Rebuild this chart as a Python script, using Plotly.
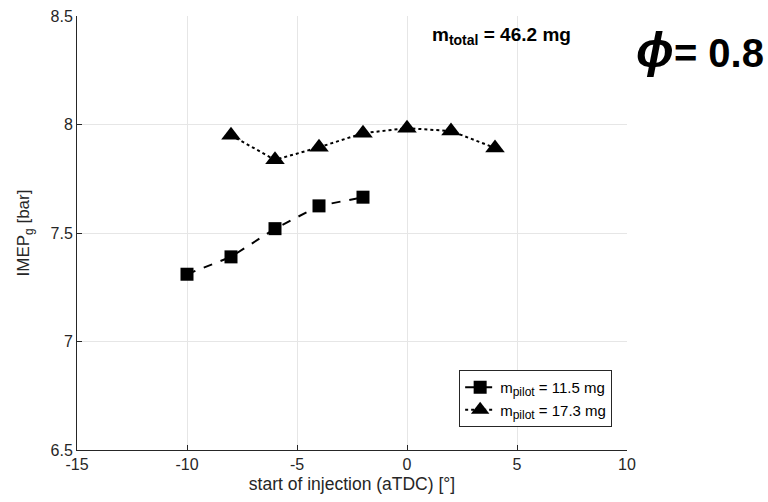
import plotly.graph_objects as go

soi_pilot115 = [-10, -8, -6, -4, -2]
imep_pilot115 = [7.31, 7.39, 7.52, 7.625, 7.665]
soi_pilot173 = [-8, -6, -4, -2, 0, 2, 4]
imep_pilot173 = [7.95, 7.837, 7.895, 7.96, 7.983, 7.97, 7.892]

x_ticks = [-15, -10, -5, 0, 5, 10]
y_ticks = [6.5, 7, 7.5, 8, 8.5]
y_ticklabels = ["6.5", "7", "7.5", "8", "8.5"]

font = "Liberation Sans, Arial, sans-serif"
axcol = "#262626"

fig = go.Figure()
fig.add_trace(go.Scatter(
    x=soi_pilot115, y=imep_pilot115, mode="lines+markers",
    name="m<sub><span style='font-size:12px'>pilot</span></sub> = 11.5 mg",
    line=dict(color="black", width=2, dash="dash"),
    marker=dict(symbol="square", size=13, color="black"),
))
fig.add_trace(go.Scatter(
    x=soi_pilot173, y=imep_pilot173, mode="lines+markers",
    name="m<sub><span style='font-size:12px'>pilot</span></sub> = 17.3 mg",
    line=dict(color="black", width=2, dash="dot"),
    marker=dict(symbol="triangle-up", size=17, color="black"),
))

fig.update_layout(
    width=768, height=502,
    margin=dict(l=77, r=141, t=16, b=52),
    paper_bgcolor="white", plot_bgcolor="white",
    font=dict(family=font, size=16, color=axcol),
    showlegend=True,
    legend=dict(
        x=0.973, y=0.053, xanchor="right", yanchor="bottom",
        bgcolor="white", bordercolor="#262626", borderwidth=1,
        font=dict(size=15, color="black"),
        tracegroupgap=0, itemwidth=30,
    ),
    xaxis=dict(
        range=[-15, 10], tickvals=x_ticks, ticktext=[str(v) for v in x_ticks],
        showgrid=True, gridcolor="#e6e6e6", gridwidth=1,
        zeroline=False, showline=True, linecolor=axcol, linewidth=1,
        ticks="inside", ticklen=5, tickcolor=axcol,
        automargin=False,
        title=dict(text="start of injection (aTDC) [°]", font=dict(size=17.5, color=axcol), standoff=5),
        tickfont=dict(size=16, color=axcol),
    ),
    yaxis=dict(
        range=[6.5, 8.5], tickvals=y_ticks, ticktext=y_ticklabels,
        showgrid=True, gridcolor="#e6e6e6", gridwidth=1,
        zeroline=False, showline=True, linecolor=axcol, linewidth=1,
        ticks="inside", ticklen=5, tickcolor=axcol,
        automargin=False,
        title=dict(text="IMEP<sub>g</sub> [bar]", font=dict(size=17, color=axcol), standoff=16),
        tickfont=dict(size=16, color=axcol),
    ),
)

fig.add_annotation(
    xref="paper", yref="paper", x=0.771, y=0.955,
    text="<b>m<sub><span style='font-size:14px'>total</span></sub> = 46.2 mg</b>", showarrow=False,
    font=dict(size=19, color="black", family=font),
    xanchor="center", yanchor="middle",
)
fig.add_annotation(
    xref="paper", yref="paper", x=1.2527, y=0.922,
    text="<b><i><span style='font-size:50px'>ϕ</span></i>= 0.8</b>", showarrow=False,
    font=dict(size=40, color="black", family=font),
    xanchor="right", yanchor="middle",
)

fig.write_html("out.html")
